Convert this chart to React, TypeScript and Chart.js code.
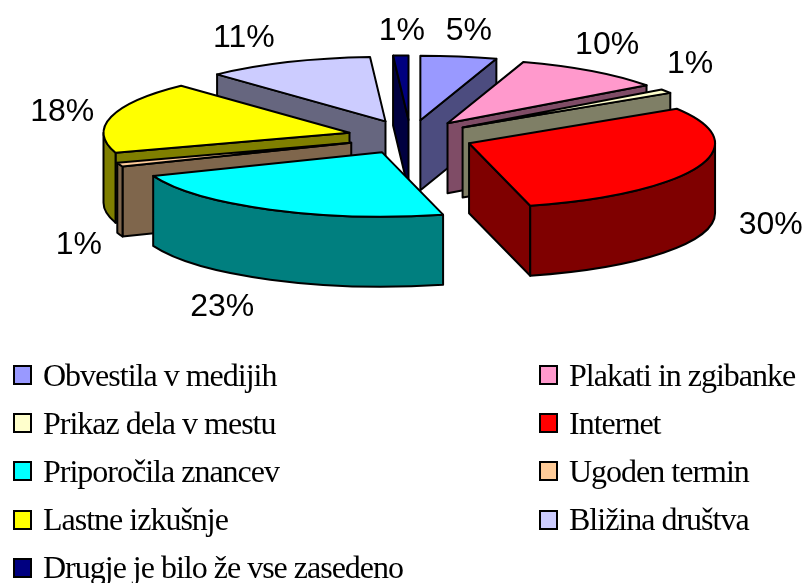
import React, { useEffect, useRef } from "react";
import { Chart, registerables } from "chart.js";

Chart.register(...registerables);

const categories = [
  "Obvestila v medijih",
  "Plakati in zgibanke",
  "Prikaz dela v mestu",
  "Internet",
  "Priporočila znancev",
  "Ugoden termin",
  "Lastne izkušnje",
  "Bližina društva",
  "Drugje je bilo že vse zasedeno",
];
const shares = [5, 10, 1, 30, 23, 1, 18, 11, 1];
const colors = ["#9999FF", "#FF99CC", "#FFFFCC", "#FF0000", "#00FFFF", "#FFCC99", "#FFFF00", "#CCCCFF", "#000080"];

// Label placement relative to the outer middle of each exploded slice.
const labelNudgeX = [10, 15, 24, 73, -48, -41, -49, -44, 1];
const labelNudgeY = [-25, -26, -27, 58, 98, 81, -5, -24, -24];

const SCALE_X = 246 / 137;
const SCALE_Y = 64.5 / 137;
const EXPLODE_X = 0.256;
const EXPLODE_Y = 0.264;
const DEPTH = 70;

const dim = (hex: string) => {
  const n = parseInt(hex.slice(1), 16);
  const c = [(n >> 16) & 255, (n >> 8) & 255, n & 255].map((v) => Math.floor(v / 2));
  return `rgb(${c[0]},${c[1]},${c[2]})`;
};

const pie3d = {
  id: "pie3d",
  beforeDatasetsDraw(chart: any) {
    const ctx: CanvasRenderingContext2D = chart.ctx;
    const arcs: any[] = chart.getDatasetMeta(0).data;
    const slices = arcs.map((arc, i) => {
      const rx = arc.outerRadius * SCALE_X;
      const ry = arc.outerRadius * SCALE_Y;
      const mid = (arc.startAngle + arc.endAngle) / 2;
      return {
        i, rx, ry, mid,
        a: arc.startAngle,
        b: arc.endAngle,
        fill: arc.options.backgroundColor as string,
        x: arc.x + EXPLODE_X * rx * Math.cos(mid),
        y: arc.y + EXPLODE_Y * ry * Math.sin(mid),
      };
    });
    ctx.save();
    ctx.lineWidth = 2;
    ctx.lineJoin = "round";
    ctx.strokeStyle = "#000";
    const paint = (fill: string) => {
      ctx.closePath();
      ctx.fillStyle = fill;
      ctx.fill();
      ctx.stroke();
    };
    const radialWall = (s: any, angle: number, side: string) => {
      const ex = s.x + s.rx * Math.cos(angle);
      const ey = s.y + s.ry * Math.sin(angle);
      ctx.beginPath();
      ctx.moveTo(s.x, s.y);
      ctx.lineTo(ex, ey);
      ctx.lineTo(ex, ey + DEPTH);
      ctx.lineTo(s.x, s.y + DEPTH);
      paint(side);
    };
    [...slices]
      .sort((p, q) => p.y - q.y)
      .forEach((s) => {
        const side = dim(s.fill);
        if (-Math.cos(s.a) > 0.001) radialWall(s, s.a, side);
        if (Math.cos(s.b) > 0.001) radialWall(s, s.b, side);
        const from = Math.max(s.a, 0);
        const to = Math.min(s.b, Math.PI);
        if (to > from) {
          ctx.beginPath();
          ctx.ellipse(s.x, s.y, s.rx, s.ry, 0, from, to);
          ctx.ellipse(s.x, s.y + DEPTH, s.rx, s.ry, 0, to, from, true);
          paint(side);
        }
        ctx.beginPath();
        ctx.moveTo(s.x, s.y);
        ctx.ellipse(s.x, s.y, s.rx, s.ry, 0, s.a, s.b);
        paint(s.fill);
      });
    ctx.fillStyle = "#000";
    ctx.font = '32px "Liberation Sans"';
    ctx.textAlign = "center";
    ctx.textBaseline = "middle";
    slices.forEach((s) => {
      const px = s.x + s.rx * Math.cos(s.mid) + labelNudgeX[s.i];
      const py = s.y + s.ry * Math.sin(s.mid) + labelNudgeY[s.i];
      ctx.fillText(`${shares[s.i]}%`, px, py);
    });
    ctx.restore();
    return false;
  },
};

export default function App() {
  const ref = useRef<HTMLCanvasElement>(null);
  useEffect(() => {
    document.body.style.margin = "0";
    const chart = new Chart(ref.current!, {
      type: "pie",
      data: {
        labels: categories,
        datasets: [{ data: shares, backgroundColor: colors, borderWidth: 0 }],
      },
      options: {
        responsive: false,
        animation: false,
        layout: { padding: { left: 18, right: 0, top: 0, bottom: 309 } },
        plugins: { legend: { display: false }, tooltip: { enabled: false } },
      },
      plugins: [pie3d],
    } as any);
    return () => chart.destroy();
  }, []);
  return (
    <div style={{ position: "relative", width: 803, height: 583, overflow: "hidden", background: "#fff" }}>
      <canvas ref={ref} width={803} height={583} style={{ display: "block" }} />
      {categories.map((c, i) => {
        const col = i % 2;
        const row = Math.floor(i / 2);
        const left = col === 0 ? 13 : 539;
        return (
          <div
            key={c}
            style={{
              position: "absolute",
              left,
              top: 351 + row * 48.2,
              height: 48,
              display: "flex",
              alignItems: "center",
              whiteSpace: "nowrap",
              font: '32px "Liberation Serif"',
              letterSpacing: "-1px",
              color: "#000",
            }}
          >
            <span
              style={{
                display: "inline-block",
                boxSizing: "border-box",
                width: 19,
                height: 20,
                border: "2px solid #000",
                background: colors[i],
                marginRight: 11,
              }}
            />
            {c}
          </div>
        );
      })}
    </div>
  );
}
